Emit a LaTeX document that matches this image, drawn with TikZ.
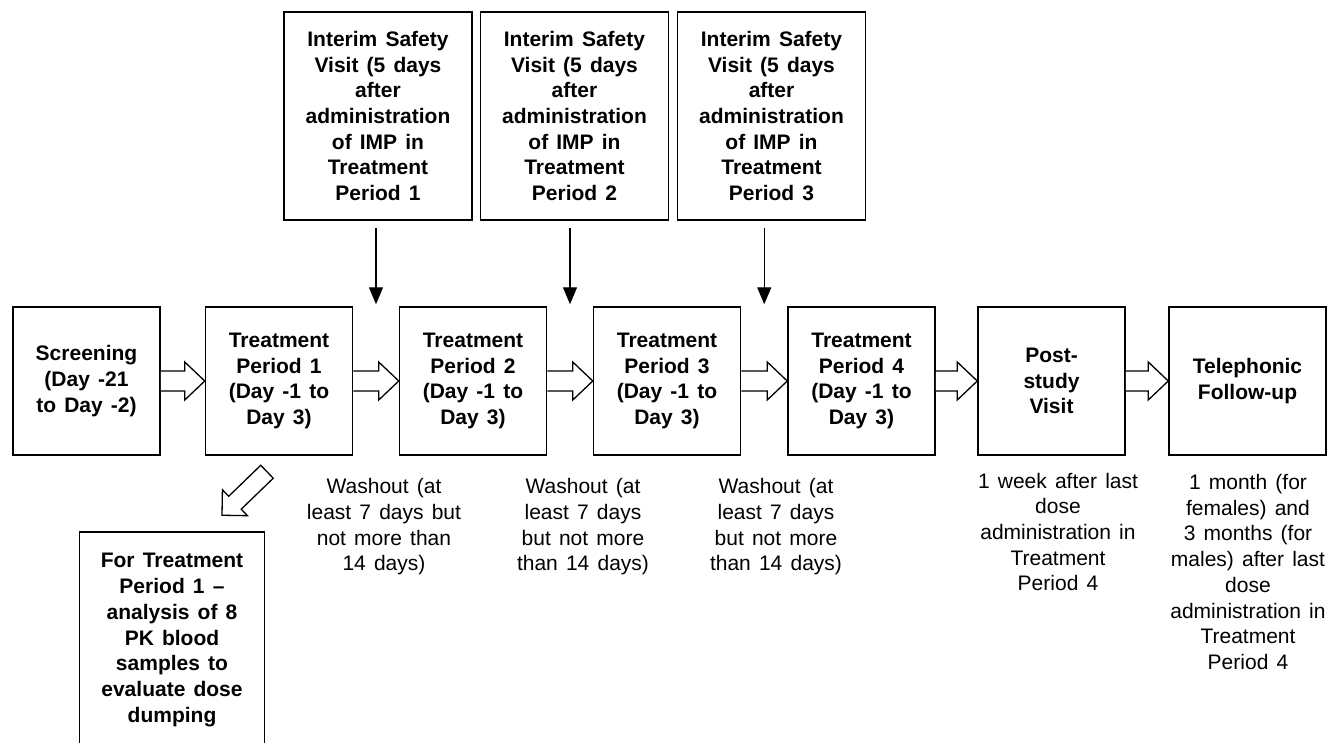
\documentclass[tikz,border=0pt]{standalone}
\usepackage{fontspec}
\setmainfont{Liberation Sans}[WordSpace=1.4]
\usetikzlibrary{calc,arrows.meta}

% hollow block arrow from the east side of #1 to the west side of #2
\newcommand{\fatarrow}[2]{%
  \draw[fat arrow] ($(#1.east)+(0,-10)$) -- ($(#2.west)+(-20,-10)$)
    -- ($(#2.west)+(-20,-19)$) -- (#2.west) -- ($(#2.west)+(-20,19)$)
    -- ($(#2.west)+(-20,10)$) -- ($(#1.east)+(0,10)$);}

\begin{document}
\begin{tikzpicture}[x=1pt,y=-1pt]
  \tikzstyle{stage}=[draw,line width=1.5pt,align=center,inner sep=0pt,minimum width=147pt,minimum height=148pt,font=\fontsize{21}{25.7}\selectfont\bfseries]
  \tikzstyle{visit}=[stage,minimum width=188pt,minimum height=208pt]
  \tikzstyle{note}=[align=center,inner sep=0pt,font=\fontsize{21}{25.7}\selectfont]
  \tikzstyle{fat arrow}=[line width=1.3pt,fill=white,line join=miter]
  \tikzstyle{thin arrow}=[line width=1.4pt,-{Triangle[length=17pt,width=14pt]}]

  \useasboundingbox (0,0) rectangle (1328,742);

  % main row
  \node[stage] (scr) at (86.5,381) {Screening\\(Day -21\\to Day -2)};
  \node[stage] (tp1) at (279,381) {Treatment\\Period 1\\(Day -1 to\\Day 3)};
  \node[stage] (tp2) at (473,381) {Treatment\\Period 2\\(Day -1 to\\Day 3)};
  \node[stage] (tp3) at (667,381) {Treatment\\Period 3\\(Day -1 to\\Day 3)};
  \node[stage] (tp4) at (861.5,381) {Treatment\\Period 4\\(Day -1 to\\Day 3)};
  \node[stage] (post) at (1051.5,381) {Post-\\study\\Visit};
  \node[stage,minimum width=157pt] (tel) at (1247.5,381) {Telephonic\\Follow-up};

  \fatarrow{scr}{tp1}
  \fatarrow{tp1}{tp2}
  \fatarrow{tp2}{tp3}
  \fatarrow{tp3}{tp4}
  \fatarrow{tp4}{post}
  \fatarrow{post}{tel}

  % interim safety visits
  \node[visit] (isv1) at (378,116) {Interim Safety\\Visit (5 days\\after\\administration\\of IMP in\\Treatment\\Period 1};
  \node[visit] (isv2) at (574.5,116) {Interim Safety\\Visit (5 days\\after\\administration\\of IMP in\\Treatment\\Period 2};
  \node[visit] (isv3) at (771.5,116) {Interim Safety\\Visit (5 days\\after\\administration\\of IMP in\\Treatment\\Period 3};

  \coordinate (g1) at ($(tp1.north east)!0.5!(tp2.north west)$);
  \coordinate (g2) at ($(tp2.north east)!0.5!(tp3.north west)$);
  \coordinate (g3) at ($(tp3.north east)!0.5!(tp4.north west)$);
  \draw[thin arrow] ($(isv1.south -| g1)+(0,7)$) -- ($(g1)+(0,-2)$);
  \draw[thin arrow] ($(isv2.south -| g2)+(0,7)$) -- ($(g2)+(0,-2)$);
  \draw[thin arrow] ($(isv3.south -| g3)+(0,7)$) -- ($(g3)+(0,-2)$);

  % PK samples
  \node[stage,minimum width=185pt,minimum height=216pt] (pk) at (172,640) {For Treatment\\Period 1 –\\analysis of 8\\PK blood\\samples to\\evaluate dose\\dumping};
  \coordinate (dtail) at ($(tp1.south)+(-12,16)$);
  \coordinate (dtip) at ($(pk.north)+(50,-16)$);
  \coordinate (dhead) at ($(dtip)!18pt!(dtail)$);
  \draw[fat arrow] ($(dtail)!9pt!90:(dtip)$) -- ($(dhead)!9pt!-90:(dtail)$)
    -- ($(dhead)!18pt!-90:(dtail)$) -- (dtip) -- ($(dhead)!18pt!90:(dtail)$)
    -- ($(dhead)!9pt!90:(dtail)$) -- ($(dtail)!9pt!-90:(dtip)$) -- cycle;

  % notes
  \node[note] (wash1) at (384,527) {Washout (at\\least 7 days but\\not more than\\14 days)};
  \node[note] (wash2) at (583,527) {Washout (at\\least 7 days\\but not more\\than 14 days)};
  \node[note] (wash3) at (776,527) {Washout (at\\least 7 days\\but not more\\than 14 days)};
  \node[note] (postnote) at (1058,532) {1 week after last\\dose\\administration in\\Treatment\\Period 4};
  \node[note] (telnote) at (1248,572) {1 month (for\\females) and\\3 months (for\\males) after last\\dose\\administration in\\Treatment\\Period 4};
\end{tikzpicture}
\end{document}
